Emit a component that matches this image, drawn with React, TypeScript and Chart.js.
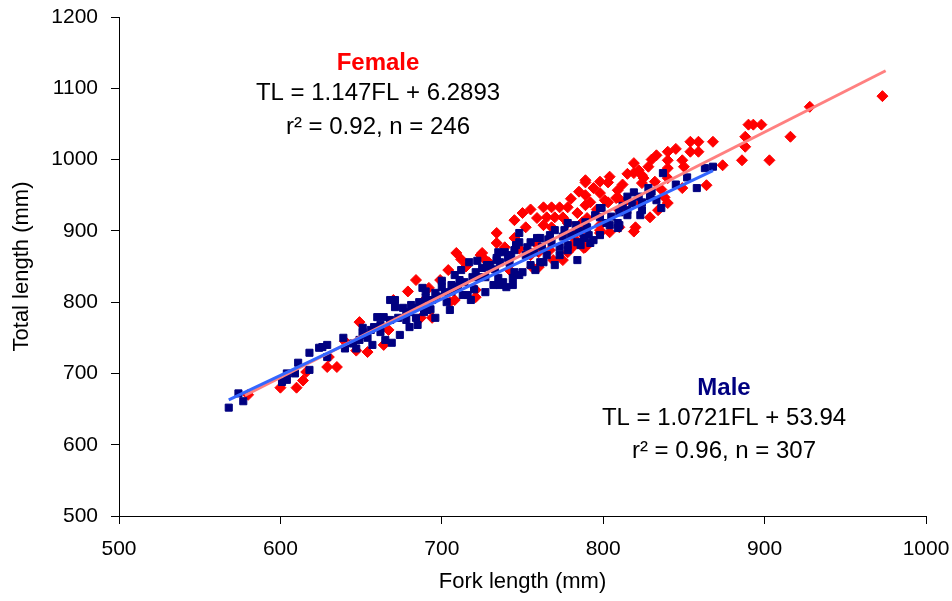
import { useEffect, useRef } from "react";
import { Chart, registerables } from "chart.js";

Chart.register(...registerables);

// Female: fork length (FL) and total length (TL), mm
const femaleFL = [
  580, 600, 610, 614, 616, 629, 635, 630, 649, 654, 647, 664, 709, 724, 704, 684, 699, 679, 705, 670,
  688, 694, 734, 734, 739, 729, 721, 769, 775, 778, 763, 768, 773, 778, 789, 794, 803, 809, 808, 798,
  789, 789, 784, 765, 770, 775, 759, 763, 768, 778, 787, 786, 725, 727, 758, 760, 781, 788, 798, 804,
  756, 760, 810, 854, 859, 868, 854, 859, 833, 840, 840, 849, 819, 828, 819, 824, 840, 804, 832, 824,
  798, 809, 803, 838, 840, 849, 864, 874, 886, 888, 890, 928, 893, 898, 916, 888, 903, 973, 823, 829,
  820, 834, 667, 687, 708, 721, 742, 755, 767, 783, 798, 810, 789, 801, 819, 825, 790, 798, 789, 783,
  840, 750, 755, 745, 752, 780, 785, 792, 796, 812, 815, 822, 830, 845, 850, 836, 813, 745, 748, 715,
  712, 692, 640
];
const femaleTL = [
  670, 680, 680, 690, 702, 709, 709, 723, 772, 730, 732, 740, 869, 866, 845, 831, 831, 815, 800, 803,
  800, 778, 897, 883, 877, 856, 807, 859, 859, 870, 933, 933, 933, 933, 968, 960, 968, 957, 946, 953,
  950, 936, 925, 919, 919, 919, 918, 908, 905, 911, 912, 898, 869, 859, 883, 870, 877, 876, 897, 898,
  849, 849, 905, 1025, 1025, 1025, 1011, 1011, 1006, 1011, 999, 999, 995, 990, 981, 978, 988, 976, 969, 967,
  969, 947, 940, 947, 939, 960, 964, 992, 999, 1032, 1049, 1074, 1049, 1049, 1032, 1018, 999, 1089, 939, 919,
  905, 929, 761, 778, 803, 817, 845, 866, 873, 887, 908, 929, 971, 943, 899, 974, 918, 901, 877, 897,
  974, 925, 930, 915, 905, 945, 955, 940, 930, 965, 980, 985, 1000, 1015, 990, 958, 940, 890, 875, 850,
  860, 820, 745
];

// Male: fork length (FL) and total length (TL), mm
const maleFL = [
  568, 574, 577, 601, 604, 609, 611, 618, 618, 624, 629, 629, 639, 640, 647, 649, 651, 654, 604, 626,
  651, 660, 664, 669, 671, 676, 678, 678, 651, 665, 668, 681, 680, 688, 696, 691, 700, 708, 708, 717,
  719, 716, 728, 732, 734, 738, 740, 748, 748, 759, 753, 739, 743, 734, 728, 768, 778, 773, 778, 784,
  791, 792, 798, 798, 804, 809, 810, 815, 815, 784, 758, 750, 744, 744, 727, 794, 770, 763, 837, 863,
  868, 858, 819, 828, 829, 824, 818, 833, 836, 824, 799, 815, 809, 802, 656, 662, 668, 673, 680, 687,
  690, 694, 702, 706, 711, 714, 721, 725, 730, 736, 741, 745, 755, 761, 767, 770, 776, 783, 789, 795,
  657, 674, 685, 696, 705, 718, 727, 736, 748, 761, 773, 786, 798, 810, 823, 671, 690, 700, 712, 722,
  735, 746, 757, 766, 780, 790, 805, 812, 822, 830, 845, 852, 682, 684, 686, 689, 693, 697, 703, 706,
  710, 713, 720, 723, 733, 735, 742, 745, 752, 755, 762, 765, 775, 778, 785, 788, 645, 658, 662
];
const maleTL = [
  652, 672, 661, 688, 700, 700, 715, 705, 729, 736, 740, 723, 750, 735, 735, 747, 754, 750, 691, 737,
  758, 779, 779, 743, 793, 792, 775, 785, 764, 747, 803, 796, 765, 820, 813, 789, 821, 838, 821, 856,
  835, 810, 852, 824, 862, 828, 821, 897, 884, 890, 877, 870, 866, 859, 849, 884, 911, 877, 873, 884,
  894, 883, 932, 919, 908, 904, 926, 929, 948, 859, 845, 842, 834, 824, 835, 887, 852, 856, 981, 988,
  990, 960, 954, 960, 948, 940, 939, 943, 932, 929, 932, 922, 911, 911, 761, 768, 775, 778, 786, 796,
  806, 803, 814, 824, 831, 828, 842, 848, 852, 856, 862, 873, 884, 890, 894, 901, 901, 908, 912, 922,
  740, 754, 768, 778, 789, 803, 814, 824, 838, 856, 866, 880, 894, 908, 922, 803, 815, 830, 845, 858,
  870, 880, 870, 888, 895, 905, 920, 935, 948, 955, 965, 975, 792, 778, 800, 786, 790, 808, 800, 815,
  822, 810, 818, 835, 846, 834, 855, 842, 866, 852, 878, 866, 892, 880, 900, 890, 742, 765, 758
];

// Regression fits: [slope, intercept] and [min FL, max FL]
const femaleFit = [1.147, 6.2893];
const femaleFitRange = [578, 975];
const maleFit = [1.0721, 53.94];
const maleFitRange = [568, 868];

const xTickValues = [500, 600, 700, 800, 900, 1000];
const yTickValues = [500, 600, 700, 800, 900, 1000, 1100, 1200];

const femaleText = ["Female", "TL = 1.147FL + 6.2893", "r² = 0.92, n = 246"];
const maleText = ["Male", "TL = 1.0721FL + 53.94", "r² = 0.96, n = 307"];

const FONT = "'Liberation Sans', Arial, sans-serif";

const zip = (xs: number[], ys: number[]) => xs.map((x, i) => ({ x, y: ys[i] }));
const fitLine = (fit: number[], range: number[]) =>
  range.map((x) => ({ x, y: fit[0] * x + fit[1] }));

const noOverhang = (s: any) => {
  s.paddingTop = 0;
  s.paddingBottom = 0;
  s.paddingLeft = 0;
  s.paddingRight = 0;
};

const textPlugin = {
  id: "equations",
  afterDraw(chart: any) {
    const ctx = chart.ctx;
    ctx.save();
    ctx.textAlign = "center";
    ctx.textBaseline = "middle";
    const block = (lines: string[], cx: number, ys: number[], color: string) => {
      ctx.font = `bold 24px ${FONT}`;
      ctx.fillStyle = color;
      ctx.fillText(lines[0], cx, ys[0]);
      ctx.font = `24px ${FONT}`;
      ctx.fillStyle = "#000";
      ctx.fillText(lines[1], cx, ys[1]);
      ctx.fillText(lines[2], cx, ys[2]);
    };
    block(femaleText, 378, [63, 93, 127], "#FF0000");
    block(maleText, 724, [388, 418, 451], "#000080");
    ctx.restore();
  },
};

export default function App() {
  const ref = useRef<HTMLCanvasElement>(null);

  useEffect(() => {
    if (!ref.current) return;
    const chart = new Chart(ref.current, {
      type: "scatter",
      data: {
        datasets: [
          {
            label: "Male fit",
            data: fitLine(maleFit, maleFitRange),
            showLine: true,
            borderColor: "#3366FF",
            borderWidth: 3,
            pointRadius: 0,
            order: 0,
          },
          {
            label: "Female fit",
            data: fitLine(femaleFit, femaleFitRange),
            showLine: true,
            borderColor: "#FF8080",
            borderWidth: 3,
            pointRadius: 0,
            order: 1,
          },
          {
            label: "Male",
            data: zip(maleFL, maleTL),
            pointStyle: "rect",
            pointRadius: 5,
            backgroundColor: "#000080",
            borderColor: "#000080",
            borderWidth: 1,
            order: 2,
          },
          {
            label: "Female",
            data: zip(femaleFL, femaleTL),
            pointStyle: "rectRot",
            pointRadius: 5.5,
            backgroundColor: "#FF0000",
            borderColor: "#FF0000",
            borderWidth: 1,
            order: 3,
          },
        ],
      },
      options: {
        animation: false,
        responsive: false,
        devicePixelRatio: 1,
        layout: { autoPadding: false, padding: { top: 17, right: 26, bottom: 0, left: 0 } },
        plugins: { legend: { display: false }, tooltip: { enabled: false } },
        scales: {
          x: {
            type: "linear",
            min: 500,
            max: 1000,
            afterFit: (s: any) => {
              s.height = 85;
              noOverhang(s);
            },
            afterBuildTicks: (s: any) => {
              s.ticks = xTickValues.map((v) => ({ value: v }));
            },
            ticks: {
              color: "#000",
              font: { family: FONT, size: 21 },
              padding: 13,
              callback: (v: any) => String(v),
            },
            grid: { drawOnChartArea: false, drawTicks: true, tickLength: 8, color: "#000" },
            border: { display: true, color: "#000", width: 1 },
            title: {
              display: true,
              text: "Fork length (mm)",
              color: "#000",
              font: { family: FONT, size: 22 },
              padding: { top: 4, bottom: 6 },
            },
          },
          y: {
            type: "linear",
            min: 500,
            max: 1200,
            afterFit: (s: any) => {
              s.width = 119;
              noOverhang(s);
            },
            afterBuildTicks: (s: any) => {
              s.ticks = yTickValues.map((v) => ({ value: v }));
            },
            ticks: {
              color: "#000",
              font: { family: FONT, size: 21 },
              padding: 13,
              callback: (v: any) => String(v),
            },
            grid: { drawOnChartArea: false, drawTicks: true, tickLength: 8, color: "#000" },
            border: { display: true, color: "#000", width: 1 },
            title: {
              display: true,
              text: "Total length (mm)",
              color: "#000",
              font: { family: FONT, size: 22 },
              padding: { top: 9, bottom: 4 },
            },
          },
        },
      },
      plugins: [textPlugin],
    });
    return () => chart.destroy();
  }, []);

  return (
    <div style={{ position: "absolute", left: 0, top: 0, width: 952, height: 601, background: "#fff" }}>
      <canvas ref={ref} width={952} height={601} style={{ display: "block" }} />
    </div>
  );
}
